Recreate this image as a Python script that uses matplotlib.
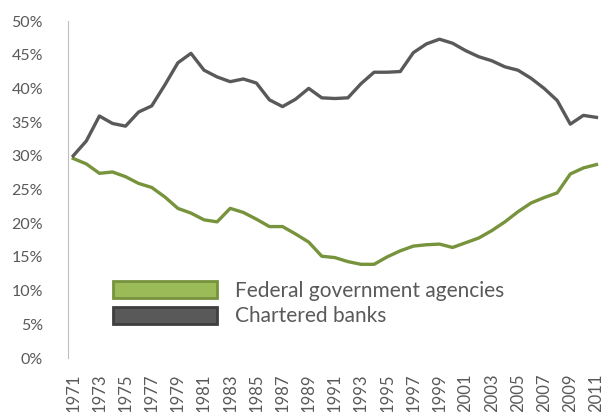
import matplotlib
matplotlib.use("Agg")
import matplotlib.pyplot as plt
from matplotlib.patches import Patch
from matplotlib.ticker import FuncFormatter

years = list(range(1971, 2012))
federal = [29.6, 28.8, 27.4, 27.6, 26.9, 25.9, 25.3, 23.9, 22.2, 21.5,
           20.5, 20.2, 22.2, 21.6, 20.6, 19.5, 19.5, 18.4, 17.2, 15.1,
           14.9, 14.3, 13.9, 13.9, 15.0, 15.9, 16.6, 16.8, 16.9, 16.4,
           17.1, 17.8, 18.9, 20.2, 21.7, 23.0, 23.8, 24.5, 27.3, 28.2, 28.7]
banks = [30.0, 32.2, 35.9, 34.8, 34.4, 36.5, 37.4, 40.5, 43.8, 45.2,
         42.7, 41.7, 41.0, 41.4, 40.8, 38.3, 37.3, 38.4, 40.0, 38.6,
         38.5, 38.6, 40.7, 42.4, 42.4, 42.5, 45.3, 46.6, 47.3, 46.7,
         45.6, 44.7, 44.1, 43.2, 42.7, 41.5, 40.0, 38.2, 34.7, 36.0, 35.7]
series_names = ["Federal government agencies", "Chartered banks"]
yticks = [0, 5, 10, 15, 20, 25, 30, 35, 40, 45, 50]
xtick_labels = list(range(1971, 2012, 2))

green = "#77933C"
green_fill = "#9BBB59"
dark = "#595959"
dark_edge = "#3F3F3F"
text_col = "#595959"

plt.rcParams['font.family'] = ['Lato', 'DejaVu Sans']

fig = plt.figure(figsize=(6.09, 4.12), dpi=100)
ax = fig.add_axes([68/609, 54/412, (603-68)/609, (358-21)/412])

ax.plot(years, federal, color=green, lw=2.4, solid_joinstyle='round')
ax.plot(years, banks, color=dark, lw=2.4, solid_joinstyle='round')

ax.set_xlim(1970.6, 2011.5)
ax.set_ylim(0, 50)
ax.set_yticks(yticks)
ax.yaxis.set_major_formatter(FuncFormatter(lambda v, p: f"{int(v)}%"))
ax.set_xticks(xtick_labels)
ax.set_xticklabels([str(y) for y in xtick_labels], rotation=90)
ax.tick_params(axis='both', length=0, labelcolor=text_col)
ax.tick_params(axis='y', pad=18, labelsize=11.5)
ax.tick_params(axis='x', pad=11, labelsize=12)
for s in ['top', 'right', 'bottom']:
    ax.spines[s].set_visible(False)
ax.spines['left'].set_color('#BFBFBF')

handles = [Patch(facecolor=green_fill, edgecolor=green, lw=2),
           Patch(facecolor=dark, edgecolor=dark_edge, lw=2)]
leg = ax.legend(handles, series_names, loc='lower left',
                bbox_to_anchor=(0.049, 0.038), frameon=False,
                fontsize=15, handlelength=5.0, handleheight=0.85,
                handletextpad=0.85, labelspacing=0.28, labelcolor=text_col,
                borderpad=0.4)

fig.savefig("out.png", dpi=100)
